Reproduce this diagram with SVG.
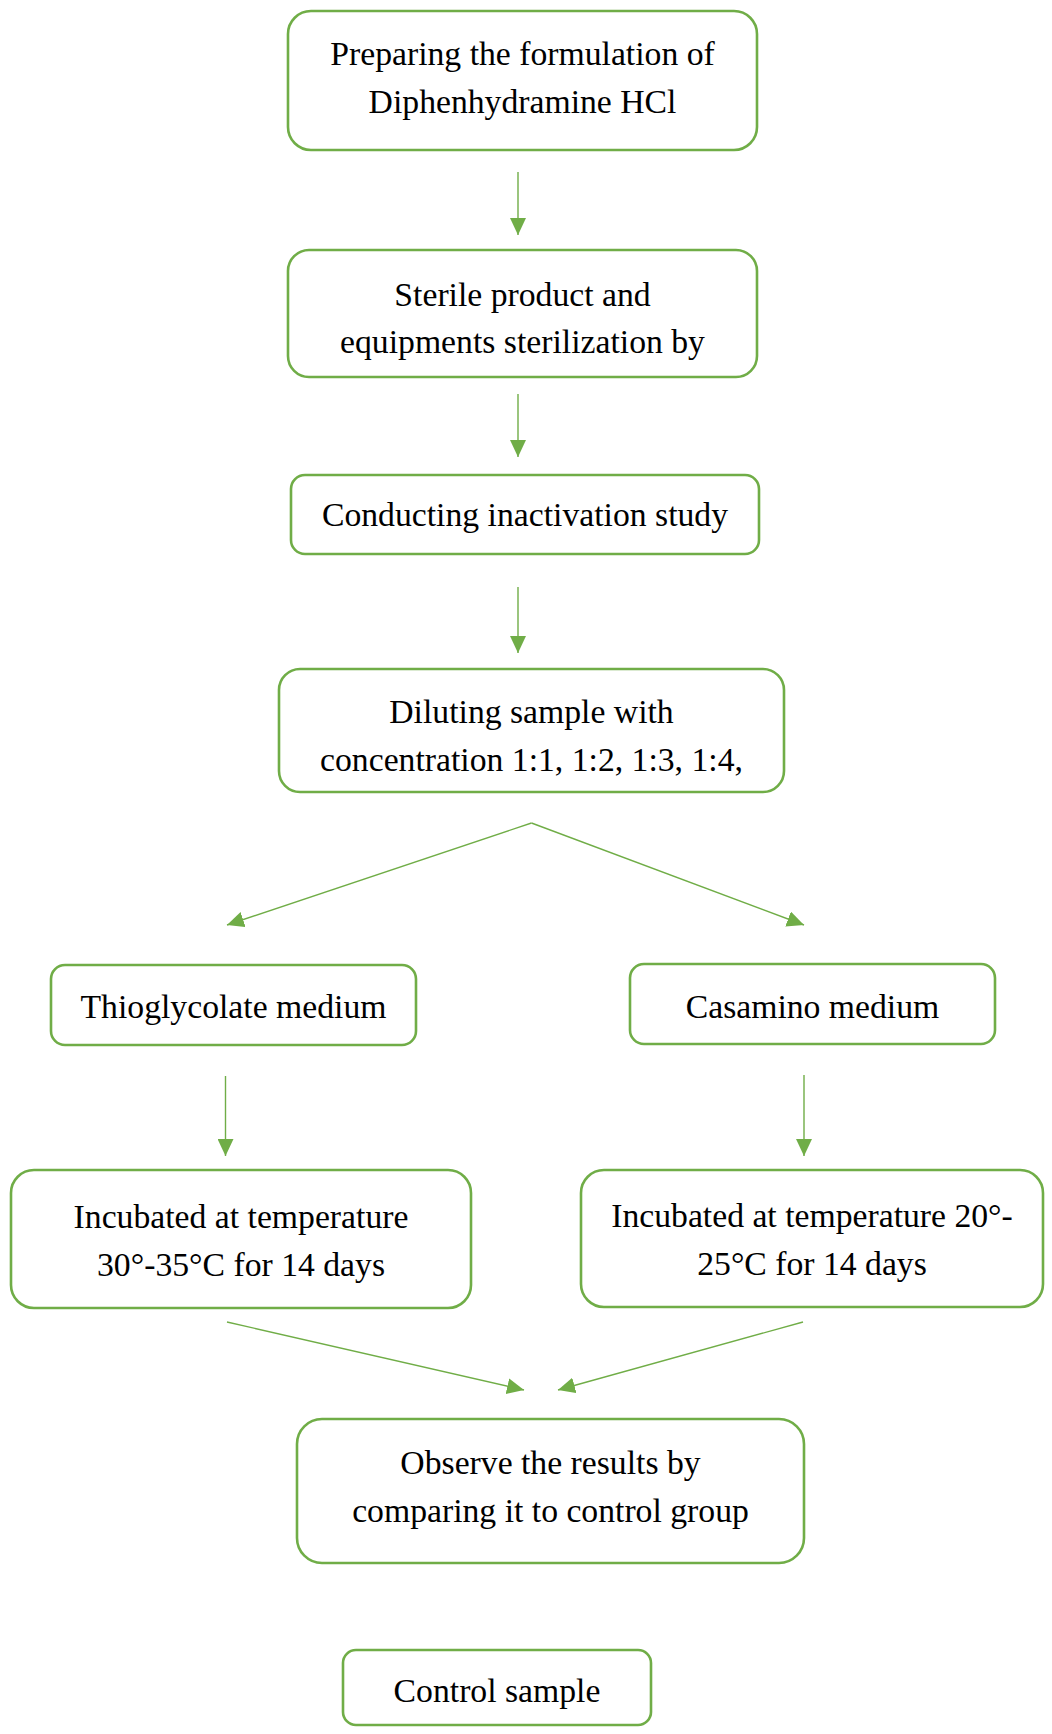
<svg xmlns="http://www.w3.org/2000/svg" width="1052" height="1734" viewBox="0 0 1052 1734">
<style>
.box{fill:#fff;stroke:#70AD47;stroke-width:2.6}
.t{font-family:"Liberation Serif","Times New Roman",serif;font-size:33.7px;fill:#000;text-anchor:middle}
.c{stroke:#70AD47;stroke-width:1.4;fill:none;marker-end:url(#ah)}
</style>
<defs>
<marker id="ah" markerUnits="userSpaceOnUse" markerWidth="18" markerHeight="16" refX="17" refY="8" orient="auto" viewBox="0 0 18 16">
<path d="M0,0 L17,8 L0,16 z" fill="#70AD47"/>
</marker>
</defs>
<rect width="1052" height="1734" fill="#fff"/>
<g id="connectors">
<line class="c" x1="518" y1="172" x2="518" y2="235"/>
<line class="c" x1="518" y1="394" x2="518" y2="457"/>
<line class="c" x1="518" y1="587" x2="518" y2="653"/>
<line class="c" x1="531.5" y1="823" x2="227" y2="925"/>
<line class="c" x1="531.5" y1="823" x2="804" y2="925"/>
<line class="c" x1="225.5" y1="1076" x2="225.5" y2="1156"/>
<line class="c" x1="804" y1="1075" x2="804" y2="1156"/>
<line class="c" x1="227" y1="1322" x2="524" y2="1390"/>
<line class="c" x1="803" y1="1322" x2="558" y2="1390"/>
</g>
<g id="n1">
<rect class="box" x="288" y="11" width="469" height="139" rx="23"/>
<text class="t" x="522.5" y="65">Preparing the formulation of</text>
<text class="t" x="522.5" y="113">Diphenhydramine HCl</text>
</g>
<g id="n2">
<rect class="box" x="288" y="250" width="469" height="127" rx="21"/>
<text class="t" x="522.5" y="306">Sterile product and</text>
<text class="t" x="522.5" y="353">equipments sterilization by</text>
</g>
<g id="n3">
<rect class="box" x="291" y="475" width="468" height="79" rx="14"/>
<text class="t" x="525" y="526">Conducting inactivation study</text>
</g>
<g id="n4">
<rect class="box" x="279" y="669" width="505" height="123" rx="21"/>
<text class="t" x="531.5" y="723">Diluting sample with</text>
<text class="t" x="531.5" y="771">concentration 1:1, 1:2, 1:3, 1:4,</text>
</g>
<g id="n5">
<rect class="box" x="51" y="965" width="365" height="80" rx="14"/>
<text class="t" x="233.5" y="1018">Thioglycolate medium</text>
</g>
<g id="n6">
<rect class="box" x="630" y="964" width="365" height="80" rx="14"/>
<text class="t" x="812.5" y="1018">Casamino medium</text>
</g>
<g id="n7">
<rect class="box" x="11" y="1170" width="460" height="138" rx="23"/>
<text class="t" x="241" y="1228">Incubated at temperature</text>
<text class="t" x="241" y="1276">30°-35°C for 14 days</text>
</g>
<g id="n8">
<rect class="box" x="581" y="1170" width="462" height="137" rx="23"/>
<text class="t" x="812" y="1227">Incubated at temperature 20°-</text>
<text class="t" x="812" y="1275">25°C for 14 days</text>
</g>
<g id="n9">
<rect class="box" x="297" y="1419" width="507" height="144" rx="25"/>
<text class="t" x="550.5" y="1474">Observe the results by</text>
<text class="t" x="550.5" y="1522">comparing it to control group</text>
</g>
<g id="n10">
<rect class="box" x="343" y="1650" width="308" height="75" rx="13"/>
<text class="t" x="497" y="1702">Control sample</text>
</g>
</svg>
